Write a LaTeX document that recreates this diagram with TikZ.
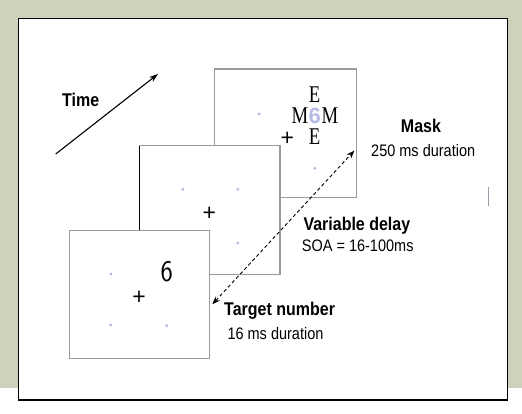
\documentclass[tikz,border=0pt]{standalone}
\usepackage{fontspec}
\usepackage{graphicx}
\usetikzlibrary{arrows.meta}
\newfontfamily\arialfont{Liberation Sans}
\newfontfamily\timesfont{Liberation Serif}
\definecolor{bggreen}{HTML}{CDD2BB}
\definecolor{framegray}{HTML}{9A9A9A}
\definecolor{dotblue}{HTML}{B7BBE3}
\definecolor{straygray}{HTML}{9A9AAA}
\newcommand{\tallbox}[1]{\scalebox{1}[1.15]{#1}}
\newcommand{\narrowbox}[1]{\scalebox{0.78}[1]{#1}}

\begin{document}
\begin{tikzpicture}[x=1pt, y=-1pt,
    frame/.style={draw=framegray, line width=1.2pt, fill=white},
    fixdot/.style={fill=dotblue},
    head/.style={inner sep=0pt, anchor=west, font=\arialfont\fontsize{16}{18}\selectfont\bfseries},
    sub/.style={inner sep=0pt, anchor=west, font=\arialfont\fontsize{14.5}{16}\selectfont},
    cross/.style={inner sep=0pt, font=\arialfont\fontsize{23}{23}\selectfont},
    maskch/.style={inner sep=0pt, text height=15pt, text depth=0pt, font=\timesfont\fontsize{24}{24}\selectfont}]
    \useasboundingbox (0, 0) rectangle (522, 414);
    \fill[white] (0, 0) rectangle (522, 414);
    \fill[bggreen] (0, 0) rectangle (522, 388);
    \draw[line width=1.2pt, fill=white] (18.3, 18.3) rectangle (507.5, 400);
    % time arrow
    \coordinate (tfrom) at (55.7, 154);
    \coordinate (tto) at (158, 74);
    \draw[line width=1.1pt, -{Stealth[length=9pt, width=6pt]}] (tfrom) -- (tto);
    \node[head] (time) at (62, 100) {\tallbox{Time}};
    % mask frame
    \draw[frame] (214.7, 69) rectangle (356.7, 197.3);
    \foreach \x/\y in {259/114, 314.7/168.3}
      \fill[fixdot] (\x, \y) circle (1.6pt);
    \node[cross] (maskplus) at (287.3, 139.3) {+};
    \node[maskch] (etop) at (314.7, 95) {\narrowbox{E}};
    \node[maskch] (mleft) at (300, 116) {\narrowbox{M}};
    \node[inner sep=0pt, text height=15pt, text depth=0pt, text=dotblue,
      font=\arialfont\fontsize{22}{22}\selectfont\bfseries] (masksix) at (314.7, 116) {6};
    \node[maskch] (mright) at (330, 116) {\narrowbox{M}};
    \node[maskch] (ebot) at (314.7, 136.7) {\narrowbox{E}};
    % delay frame
    \draw[frame] (139.3, 145.7) rectangle (280, 274.3);
    \draw[line width=1.2pt] (139.3, 145.7) -- (139.3, 230.7);
    \foreach \x/\y in {183/189.3, 237.7/189.3, 237.7/243}
      \fill[fixdot] (\x, \y) circle (1.6pt);
    \node[cross] (delayplus) at (209.3, 214.3) {+};
    % target frame
    \draw[frame] (69.3, 230.7) rectangle (209.3, 358.3);
    \foreach \x/\y in {111/274, 110.7/325, 166.7/325.7}
      \fill[fixdot] (\x, \y) circle (1.6pt);
    \node[cross] (targetplus) at (139, 297.7) {+};
    \node[inner sep=0pt, font=\sffamily\fontsize{26}{26}\selectfont] (targetsix) at (166.7, 271.7) {\tallbox{6}};
    % delay arrow
    \coordinate (dlow) at (212.3, 304.3);
    \coordinate (dhigh) at (354.3, 150.7);
    \draw[line width=0.9pt, dash pattern=on 3.5pt off 2.5pt,
      {Stealth[length=8pt, width=6pt]}-{Stealth[length=8pt, width=6pt]}] (dlow) -- (dhigh);
    % labels
    \node[head, anchor=center] (mask) at (421, 126) {\tallbox{Mask}};
    \node[sub] (maskdur) at (371, 150.7) {\tallbox{250 ms duration}};
    \node[head] (delay) at (303.3, 225.7) {\tallbox{Variable delay}};
    \node[sub] (soa) at (301.7, 246) {\tallbox{SOA = 16-100ms}};
    \node[head] (target) at (224, 310.7) {\tallbox{Target number}};
    \node[sub] (targetdur) at (227.3, 333.3) {\tallbox{16 ms duration}};
    \draw[straygray, line width=0.8pt] (488.3, 187) -- (488.3, 205.7);
  \end{tikzpicture}
\end{document}
